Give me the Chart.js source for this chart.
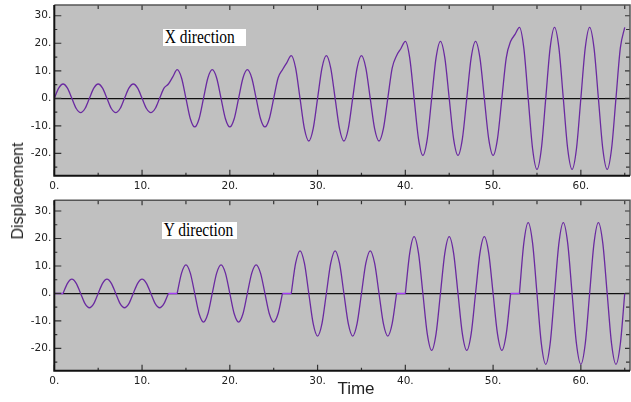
<!DOCTYPE html>
<html><head><meta charset="utf-8">
<script src="https://cdn.jsdelivr.net/npm/chart.js@4/dist/chart.umd.min.js"></script>
<style>
html,body{margin:0;padding:0;background:#fff;width:631px;height:402px;overflow:hidden;position:relative;}
canvas{position:absolute;left:0;}
#c1{top:0;}
#c2{top:195px;}
.lbl{position:absolute;background:#fff;font-family:"Liberation Serif","Times New Roman",serif;font-size:18px;line-height:17px;height:17px;color:#000;white-space:nowrap;overflow:hidden;}
.lbl span{display:inline-block;transform-origin:0 50%;transform:scaleX(0.86);padding-left:2px;}
#ytitle{position:absolute;left:18px;top:191px;transform:translate(-50%,-50%) rotate(-90deg);font-family:"Liberation Sans",Arial,sans-serif;font-size:16px;color:#222;white-space:nowrap;line-height:16px;}
#xtitle{position:absolute;left:356px;top:380px;transform:translateX(-50%);font-family:"Liberation Sans",Arial,sans-serif;font-size:17px;color:#222;line-height:17px;white-space:nowrap;}
</style></head>
<body>
<canvas id="c1" width="631" height="195"></canvas>
<canvas id="c2" width="631" height="207"></canvas>
<div class="lbl" style="left:163px;top:29px;width:83px;"><span>X direction</span></div>
<div class="lbl" style="left:162px;top:222px;width:75px;"><span>Y direction</span></div>
<div id="ytitle">Displacement</div>
<div id="xtitle">Time</div>
<script>
// ---- data ----
const times = [
 0,0.5,1,1.5,2,2.5,3,3.5,4,4.5,5,5.5,6,6.5,7,7.5,8,8.5,9,9.5,10,10.5,11,11.5,12,12.5,
 13,13.5,14,14.5,15,15.5,16,16.5,17,17.5,18,18.5,19,19.5,20,20.5,21,21.5,22,22.5,23,23.5,24,24.5,25,25.5,
 26,26.5,27,27.5,28,28.5,29,29.5,30,30.5,31,31.5,32,32.5,33,33.5,34,34.5,35,35.5,36,36.5,37,37.5,38,38.5,
 39,39.5,40,40.5,41,41.5,42,42.5,43,43.5,44,44.5,45,45.5,46,46.5,47,47.5,48,48.5,49,49.5,50,50.5,51,51.5,
 52,52.5,53,53.5,54,54.5,55,55.5,56,56.5,57,57.5,58,58.5,59,59.5,60,60.5,61,61.5,62,62.5,63,63.5,64,64.5,
 65
];
const xDisplacement = [
 0,3.7,5.2,3.7,0,-3.7,-5.2,-3.7,0,3.7,5.2,3.7,0,-3.7,-5.2,-3.7,0,3.7,5.2,3.7,0,-3.7,-5.2,-3.7,0,3.7,
 5.2,7.8,10.4,7.4,0,-7.4,-10.4,-7.4,0,7.4,10.4,7.4,0,-7.4,-10.4,-7.4,0,7.4,10.4,7.4,0,-7.4,-10.4,-7.4,0,7.4,
 10.4,13.0,15.5,11.0,0,-11.0,-15.5,-11.0,0,11.0,15.5,11.0,0,-11.0,-15.5,-11.0,0,11.0,15.5,11.0,0,-11.0,-15.5,-11.0,0,11.0,
 15.5,18.1,20.7,14.7,0,-14.7,-20.7,-14.7,0,14.7,20.7,14.7,0,-14.7,-20.7,-14.7,0,14.7,20.7,14.7,0,-14.7,-20.7,-14.7,0,14.7,
 20.7,23.2,25.8,18.3,0,-18.3,-25.8,-18.3,0,18.3,25.8,18.3,0,-18.3,-25.8,-18.3,0,18.3,25.8,18.3,0,-18.3,-25.8,-18.3,0,18.3,
 25.8
];
const yDisplacement = [
 null,null,0,3.7,5.2,3.7,0,-3.7,-5.2,-3.7,0,3.7,5.2,3.7,0,-3.7,-5.2,-3.7,0,3.7,5.2,3.7,0,-3.7,-5.2,-3.7,
 0,null,0,7.4,10.4,7.4,0,-7.4,-10.4,-7.4,0,7.4,10.4,7.4,0,-7.4,-10.4,-7.4,0,7.4,10.4,7.4,0,-7.4,-10.4,-7.4,
 0,null,0,11.0,15.5,11.0,0,-11.0,-15.5,-11.0,0,11.0,15.5,11.0,0,-11.0,-15.5,-11.0,0,11.0,15.5,11.0,0,-11.0,-15.5,-11.0,
 0,null,0,14.7,20.7,14.7,0,-14.7,-20.7,-14.7,0,14.7,20.7,14.7,0,-14.7,-20.7,-14.7,0,14.7,20.7,14.7,0,-14.7,-20.7,-14.7,
 0,null,0,18.3,25.8,18.3,0,-18.3,-25.8,-18.3,0,18.3,25.8,18.3,0,-18.3,-25.8,-18.3,0,18.3,25.8,18.3,0,-18.3,-25.8,-18.3,
 0
];
const yRestStart = [0,13,26,39,52];
const yRestEnd   = [1,14,27,40,53];
const xTickValues = [0,10,20,30,40,50,60];
const yTickValues = [-20,-10,0,10,20,30];
const xMarkValues = [0,5,10,15,20,25,30,35,40,45,50,55,60,65];
const yMarkValues = [-25,-20,-15,-10,-5,0,5,10,15,20,25,30];
const xRange = [0, 65.6];
const yRange = [-28.1, 33.9];

// ---- drawing ----
const LINE = '#6a2aa0';
const REST = '#a23cf5';

function pts(xs, ys){ return xs.map((x,i)=>({x:x, y:ys[i]})); }
function restPts(){
  const out=[];
  yRestStart.forEach((s,i)=>{ out.push({x:s,y:0},{x:yRestEnd[i],y:0},{x:yRestEnd[i],y:null}); });
  return out;
}

const framePlugin = {
  id:'frame',
  beforeDraw(chart){
    const {ctx, chartArea:a} = chart;
    ctx.save(); ctx.fillStyle='#c0c0c0';
    ctx.fillRect(a.left,a.top,a.right-a.left,a.bottom-a.top); ctx.restore();
  },
  afterDatasetsDraw(chart){
    const {ctx, chartArea:a, scales} = chart;
    ctx.save();
    ctx.strokeStyle='#333'; ctx.lineWidth=1.2;
    ctx.beginPath();
    xMarkValues.forEach(v=>{
      const p=scales.x.getPixelForValue(v);
      const major = xTickValues.includes(v);
      const lb = major?6:3, lt = major?5:4;
      ctx.moveTo(p,a.bottom); ctx.lineTo(p,a.bottom-lb);
      ctx.moveTo(p,a.top); ctx.lineTo(p,a.top+lt);
    });
    yMarkValues.forEach(v=>{
      const p=scales.y.getPixelForValue(v);
      const major = yTickValues.includes(v);
      const ll = major?7:3, lr = major?5:4;
      ctx.moveTo(a.left,p); ctx.lineTo(a.left+ll,p);
      ctx.moveTo(a.right,p); ctx.lineTo(a.right-lr,p);
    });
    ctx.stroke();
    ctx.strokeStyle='#555'; ctx.lineWidth=1.5;
    ctx.beginPath();
    ctx.moveTo(a.left,a.top); ctx.lineTo(a.right,a.top); ctx.lineTo(a.right,a.bottom);
    ctx.stroke();
    ctx.strokeStyle='#111'; ctx.lineWidth=2;
    ctx.beginPath();
    ctx.moveTo(a.left,a.top); ctx.lineTo(a.left,a.bottom); ctx.lineTo(a.right,a.bottom);
    ctx.stroke();
    ctx.restore();
  }
};

function makeChart(id, datasets, padTop, xHeight){
  const tickFont = {family:'"DejaVu Sans", sans-serif', size:10.5};
  return new Chart(document.getElementById(id), {
    type:'line',
    data:{datasets},
    options:{
      responsive:false, animation:false, devicePixelRatio:1,
      layout:{padding:{top:padTop,right:1,left:0,bottom:0}},
      plugins:{legend:{display:false}, tooltip:{enabled:false}},
      elements:{point:{radius:0}},
      scales:{
        x:{type:'linear', min:xRange[0], max:xRange[1],
           grid:{display:false, drawTicks:false}, border:{display:false},
           afterBuildTicks:s=>{ s.ticks = xTickValues.map(v=>({value:v})); },
           afterFit:s=>{ s.height=xHeight; s.paddingLeft=0; s.paddingRight=0; s.paddingTop=0; s.paddingBottom=0; },
           ticks:{font:tickFont, color:'#222', padding:4, maxRotation:0, autoSkip:false, callback:v=>v+'.'}},
        y:{type:'linear', min:yRange[0], max:yRange[1],
           grid:{drawTicks:false, lineWidth:1.3, color:c=> (c.tick && c.tick.value===0) ? '#111' : 'rgba(0,0,0,0)'},
           border:{display:false},
           afterBuildTicks:s=>{ s.ticks = yTickValues.map(v=>({value:v})); },
           afterFit:s=>{ s.width=54.3; s.paddingTop=0; s.paddingBottom=0; s.paddingLeft=0; s.paddingRight=0; },
           ticks:{font:tickFont, color:'#222', padding:3, autoSkip:false, callback:v=>v+'.'}}
      }
    },
    plugins:[framePlugin]
  });
}

makeChart('c1', [
  {data:pts(times,xDisplacement), borderColor:LINE, borderWidth:1.3, cubicInterpolationMode:'monotone', fill:false, spanGaps:false}
], 5, 19.3);

makeChart('c2', [
  {data:restPts(), borderColor:REST, borderWidth:1.5, tension:0, fill:false, spanGaps:false},
  {data:pts(times,yDisplacement), borderColor:LINE, borderWidth:1.3, cubicInterpolationMode:'monotone', fill:false, spanGaps:false}
], 5.3, 31.3);
</script>
</body></html>
